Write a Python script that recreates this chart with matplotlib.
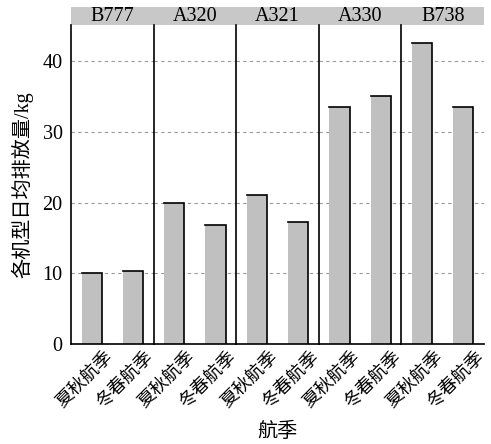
import matplotlib
matplotlib.use('Agg')
import matplotlib.pyplot as plt
from matplotlib.patches import Rectangle
from matplotlib.transforms import ScaledTranslation

plt.rcParams['font.family'] = ['Liberation Serif', 'Noto Sans CJK SC']
plt.rcParams['font.size'] = 14.5

# data
aircraft = ['B777', 'A320', 'A321', 'A330', 'B738']
seasons = ['夏秋航季', '冬春航季']
summer_autumn = [10.1, 19.9, 21.0, 33.5, 42.6]
winter_spring = [10.3, 16.8, 17.2, 35.0, 33.5]
yticks = [0, 10, 20, 30, 40]

fig, axes = plt.subplots(1, 5, sharey=True, figsize=(4.91, 4.44), dpi=100)
left, right, bottom, top = 71 / 491, 484 / 491, 1 - 344 / 444, 1 - 25 / 444
fig.subplots_adjust(left=left, right=right, bottom=bottom, top=top, wspace=0)

strip_h = 18 / 319  # strip height in axes units

for i, ax in enumerate(axes):
    vals = [summer_autumn[i], winter_spring[i]]
    bars = ax.bar(range(len(seasons)), vals, width=0.49, color='#c0c0c0', zorder=2)
    # dark top and right edge on each bar
    for b in bars:
        x0 = b.get_x()
        x1 = x0 + b.get_width()
        h = b.get_height()
        ax.plot([x0, x1, x1], [h, h, 0], color='black', lw=1.2, zorder=3,
                solid_joinstyle='miter')

    ax.set_xlim(-0.5, 1.5)
    ax.set_ylim(0, 45.1)
    ax.set_yticks(yticks)
    ax.grid(axis='y', color='#999999', ls=(0, (3, 3)), lw=0.8, zorder=0)
    ax.set_axisbelow(True)

    for s in ['top', 'right']:
        ax.spines[s].set_visible(False)
    for s in ['left', 'bottom']:
        ax.spines[s].set_linewidth(1.2)
        ax.spines[s].set_color('black')

    ax.tick_params(axis='both', length=0)
    ax.tick_params(axis='y', pad=6)
    ax.tick_params(axis='x', pad=3)

    ax.set_xticks(range(len(seasons)))
    ax.set_xticklabels(seasons, rotation=45, ha='right', va='top',
                       rotation_mode='anchor', fontsize=13)
    for lab in ax.get_xticklabels():
        lab.set_transform(lab.get_transform() + ScaledTranslation(0.12, 0.0, fig.dpi_scale_trans))

    # facet strip
    ax.add_patch(Rectangle((0, 1), 1, strip_h, transform=ax.transAxes,
                           clip_on=False, color='#c8c8c8', lw=0))
    ax.text(0.5, 1 + strip_h / 2, aircraft[i], transform=ax.transAxes,
            ha='center', va='center')

fig.text((left + right) / 2, 1 - 432 / 444, '航季', ha='center', va='center')
fig.text(22 / 491, (bottom + top) / 2, '各机型日均排放量/kg', rotation=90,
         ha='center', va='center')

fig.savefig('out.png', dpi=100)
